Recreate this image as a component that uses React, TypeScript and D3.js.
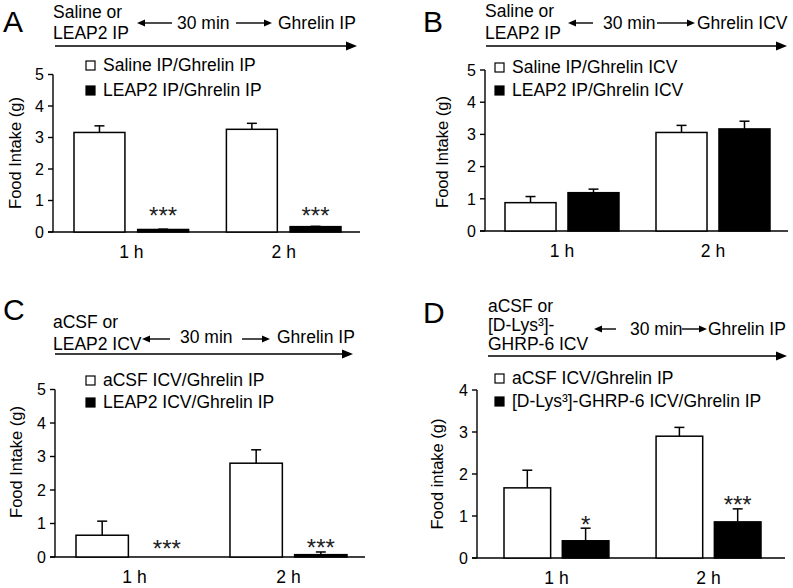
import * as d3 from "d3";

const categories = ["1 h", "2 h"];

// A: LEAP2 IP before ghrelin IP
const aSaline = [3.16, 3.26];
const aSalineSem = [0.21, 0.19];
const aLeap = [0.08, 0.17];
const aLeapSem = [0.01, 0.01];
const aStars = ["***", "***"];
const aLegend = ["Saline IP/Ghrelin IP", "LEAP2 IP/Ghrelin IP"];

// B: LEAP2 IP before ghrelin ICV
const bSaline = [0.88, 3.06];
const bSalineSem = [0.19, 0.22];
const bLeap = [1.19, 3.17];
const bLeapSem = [0.11, 0.24];
const bStars = ["", ""];
const bLegend = ["Saline IP/Ghrelin ICV", "LEAP2 IP/Ghrelin ICV"];

// C: LEAP2 ICV before ghrelin IP
const cAcsf = [0.65, 2.8];
const cAcsfSem = [0.42, 0.4];
const cLeap = [0, 0.07];
const cLeapSem = [0, 0.08];
const cStars = ["***", "***"];
const cLegend = ["aCSF ICV/Ghrelin IP", "LEAP2 ICV/Ghrelin IP"];

// D: [D-Lys3]-GHRP-6 ICV before ghrelin IP
const dAcsf = [1.67, 2.9];
const dAcsfSem = [0.42, 0.21];
const dLys = [0.41, 0.86];
const dLysSem = [0.3, 0.31];
const dStars = ["*", "***"];
const dLegend = ["aCSF ICV/Ghrelin IP", "[D-Lys³]-GHRP-6 ICV/Ghrelin IP"];

const fills = ["#fff", "#000"];
const font = "'Liberation Sans', Arial, sans-serif";

type Panel = {
  letter: string; letterX: number; letterY: number;
  left: string[]; leftX: number; leftY: number[];
  arrowL: [number, number]; arrowR: [number, number]; arrowY: number;
  midX: number; midY: number; right: string; rightX: number;
  lineY: number; lineX: [number, number];
  legend: string[]; legX: number; legY: number[];
  axisX: number; y0: number; yTop: number; yMax: number; xEnd: number;
  barRange: [number, number]; padIn: number; subPad: number;
  yLabel: string; yLabelX: number; yLabelY: number;
  series: number[][]; sems: number[][]; stars: string[]; starMin: number;
};

const panels: Panel[] = [
  {
    letter: "A", letterX: 3, letterY: 32,
    left: ["Saline or", "LEAP2 IP"], leftX: 53, leftY: [18, 39],
    arrowL: [137, 172], arrowR: [236, 272], arrowY: 23,
    midX: 177, midY: 29, right: "Ghrelin IP", rightX: 278,
    lineY: 46, lineX: [55, 357],
    legend: aLegend, legX: 86, legY: [61, 86],
    axisX: 53, y0: 232, yTop: 74.5, yMax: 5, xEnd: 360,
    barRange: [74, 341], padIn: 0.248, subPad: 0.2,
    yLabel: "Food Intake (g)", yLabelX: 21, yLabelY: 153,
    series: [aSaline, aLeap], sems: [aSalineSem, aLeapSem], stars: aStars, starMin: 0.69,
  },
  {
    letter: "B", letterX: 423, letterY: 32,
    left: ["Saline or", "LEAP2 IP"], leftX: 485, leftY: [17, 39],
    arrowL: [568, 593], arrowR: [657, 695], arrowY: 23,
    midX: 603, midY: 29, right: "Ghrelin ICV", rightX: 697,
    lineY: 46, lineX: [486, 787],
    legend: bLegend, legX: 495, legY: [63, 86],
    axisX: 485, y0: 231, yTop: 70, yMax: 5, xEnd: 788,
    barRange: [505, 770], padIn: 0.245, subPad: 0.19,
    yLabel: "Food Intake (g)", yLabelX: 448, yLabelY: 152,
    series: [bSaline, bLeap], sems: [bSalineSem, bLeapSem], stars: bStars, starMin: 0,
  },
  {
    letter: "C", letterX: 3, letterY: 320,
    left: ["aCSF or", "LEAP2 ICV"], leftX: 53, leftY: [328, 350],
    arrowL: [142, 170], arrowR: [242, 270], arrowY: 339,
    midX: 180, midY: 343, right: "Ghrelin IP", rightX: 277,
    lineY: 354, lineX: [55, 353],
    legend: cLegend, legX: 86, legY: [376, 398],
    axisX: 55, y0: 557, yTop: 389.5, yMax: 5, xEnd: 365,
    barRange: [76, 347], padIn: 0.24, subPad: 0.19,
    yLabel: "Food Intake (g)", yLabelX: 22, yLabelY: 462,
    series: [cAcsf, cLeap], sems: [cAcsfSem, cLeapSem], stars: cStars, starMin: 0.39,
  },
  {
    letter: "D", letterX: 423, letterY: 323,
    left: ["aCSF or", "[D-Lys³]-", "GHRP-6 ICV"], leftX: 488, leftY: [312, 331, 350],
    arrowL: [594, 616], arrowR: [682, 707], arrowY: 329,
    midX: 630, midY: 335, right: "Ghrelin IP", rightX: 708,
    lineY: 356, lineX: [488, 787],
    legend: dLegend, legX: 495, legY: [374, 397],
    axisX: 477, y0: 558, yTop: 390, yMax: 4, xEnd: 785,
    barRange: [504, 761], padIn: 0.31, subPad: 0.2,
    yLabel: "Food intake (g)", yLabelX: 443, yLabelY: 474,
    series: [dAcsf, dLys], sems: [dAcsfSem, dLysSem], stars: dStars, starMin: 0,
  },
];

function Arrow({ x1, x2, y, head = 8, half = 3.5, w = 1.4 }: { x1: number; x2: number; y: number; head?: number; half?: number; w?: number }) {
  // arrow drawn from x1 towards tip x2
  const dir = Math.sign(x2 - x1);
  const base = x2 - dir * head;
  return (
    <g>
      <line x1={x1} x2={base} y1={y} y2={y} stroke="#000" strokeWidth={w} />
      <path d={`M${x2},${y}L${base},${y - half}L${base},${y + half}Z`} fill="#000" />
    </g>
  );
}

function PanelChart({ p }: { p: Panel }) {
  const y = d3.scaleLinear().domain([0, p.yMax]).range([p.y0, p.yTop]);
  const x = d3.scaleBand<string>().domain(categories).range(p.barRange).paddingInner(p.padIn).paddingOuter(0);
  const xs = d3.scaleBand<number>().domain([0, 1]).range([0, x.bandwidth()]).paddingInner(p.subPad).paddingOuter(0);
  const ticks = d3.range(0, p.yMax + 1);

  return (
    <g fontFamily={font} fill="#000">
      {/* header */}
      <text x={p.letterX} y={p.letterY} fontSize={30}>{p.letter}</text>
      {p.left.map((t, i) => (
        <text key={t} x={p.leftX} y={p.leftY[i]} fontSize={17.5}>{t}</text>
      ))}
      <Arrow x1={p.arrowL[1]} x2={p.arrowL[0]} y={p.arrowY} />
      <text x={p.midX} y={p.midY} fontSize={17.5}>30 min</text>
      <Arrow x1={p.arrowR[0]} x2={p.arrowR[1]} y={p.arrowY} />
      <text x={p.rightX} y={p.midY} fontSize={17.5}>{p.right}</text>
      <Arrow x1={p.lineX[0]} x2={p.lineX[1]} y={p.lineY} head={11} half={4.5} w={1.6} />

      {/* legend */}
      {p.legend.map((t, i) => (
        <g key={t}>
          <rect x={p.legX} y={p.legY[i]} width={9} height={9} fill={fills[i]} stroke="#000" strokeWidth={1.2} />
          <text x={p.legX + 17} y={p.legY[i] + 10} fontSize={17.5}>{t}</text>
        </g>
      ))}

      {/* axes */}
      <line x1={p.axisX} x2={p.axisX} y1={y(0)} y2={y(p.yMax)} stroke="#000" strokeWidth={1.4} />
      <line x1={p.axisX - 5} x2={p.xEnd} y1={y(0)} y2={y(0)} stroke="#000" strokeWidth={1.4} />
      {ticks.map((t) => (
        <g key={t}>
          <line x1={p.axisX - 5} x2={p.axisX} y1={y(t)} y2={y(t)} stroke="#000" strokeWidth={1.4} />
          <text x={p.axisX - 9} y={y(t)} dy="0.36em" textAnchor="end" fontSize={16}>{t}</text>
        </g>
      ))}
      <text transform={`translate(${p.yLabelX},${p.yLabelY}) rotate(-90)`} textAnchor="middle" fontSize={16.5}>{p.yLabel}</text>
      {categories.map((c) => (
        <text key={c} x={x(c)! + x.bandwidth() / 2} y={p.y0 + 26} textAnchor="middle" fontSize={17.5}>{c}</text>
      ))}

      {/* bars + error bars */}
      {categories.map((c, ci) =>
        p.series.map((s, si) => {
          const v = s[ci];
          const e = p.sems[si][ci];
          const bx = x(c)! + xs(si)!;
          const cx = bx + xs.bandwidth() / 2;
          if (v <= 0) return null;
          return (
            <g key={c + si}>
              <line x1={cx} x2={cx} y1={y(v)} y2={y(v + e)} stroke="#000" strokeWidth={1.5} />
              <line x1={cx - 5} x2={cx + 5} y1={y(v + e)} y2={y(v + e)} stroke="#000" strokeWidth={1.5} />
              <rect x={bx} y={y(v)} width={xs.bandwidth()} height={y(0) - y(v)} fill={fills[si]} stroke="#000" strokeWidth={1.5} />
            </g>
          );
        })
      )}

      {/* significance */}
      {categories.map((c, ci) => {
        const t = p.stars[ci];
        if (!t) return null;
        const top = p.series[1][ci] + p.sems[1][ci];
        const cy = Math.min(y(p.starMin), y(top) - 9);
        const cx = x(c)! + xs(1)! + xs.bandwidth() / 2;
        return (
          <text key={c} x={cx} y={cy + 13.5} textAnchor="middle" fontSize={24} fill="#222">{t}</text>
        );
      })}
    </g>
  );
}

export default function App() {
  return (
    <div style={{ position: "absolute", left: 0, top: 0 }}>
      <svg width={793} height={588} style={{ display: "block", background: "#fff" }}>
        {panels.map((p) => (
          <PanelChart key={p.letter} p={p} />
        ))}
      </svg>
    </div>
  );
}
